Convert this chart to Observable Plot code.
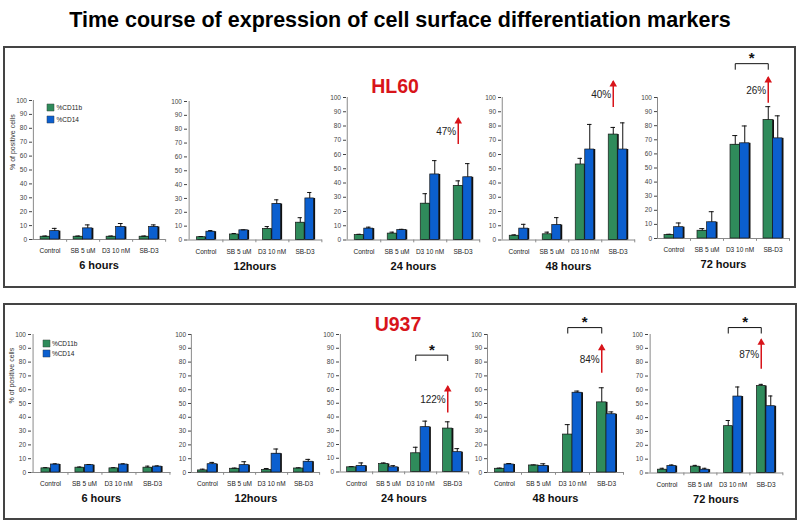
<!DOCTYPE html>
<html><head><meta charset="utf-8">
<script src="https://cdn.jsdelivr.net/npm/d3@7"></script>
<script src="https://cdn.jsdelivr.net/npm/@observablehq/plot@0.6"></script>
<style>
body{margin:0;background:#fff;}
#root{position:relative;width:800px;height:525px;overflow:hidden;background:#fff;font-family:"Liberation Sans",Arial,sans-serif;}
.box{position:absolute;border:2px solid #444;box-sizing:border-box;}
.lbl{position:absolute;white-space:nowrap;transform:translateX(-50%);font-weight:bold;}
svg{max-width:none !important;}
</style></head><body><div id="root"></div>
<script>
const categories = ["Control", "SB 5 uM", "D3 10 nM", "SB-D3"];
const series = ["%CD11b", "%CD14"];
const timepoints = ["6 hours", "12hours", "24 hours", "48 hours", "72 hours"];
const yTicks = [0, 10, 20, 30, 40, 50, 60, 70, 80, 90, 100];
const yLabel = "% of positive cells";
const title = "Time course of expression of cell surface differentiation markers";
const cellLines = ["HL60", "U937"];

// HL60 (mean and SD per time point, per treatment)
const hl60_cd11b    = [[2, 2, 2, 2], [2, 4, 8, 12.5], [3.5, 4.5, 25.5, 38], [3, 4, 53, 74], [2.5, 5.5, 66.5, 84]];
const hl60_cd11b_sd = [[0.5, 0.5, 0.5, 0.5], [0.5, 0.7, 1.7, 3.6], [0.5, 1, 7, 3.5], [0.6, 1.5, 4.3, 5], [0.5, 1.5, 6.5, 9.5]];
const hl60_cd14     = [[6, 8, 9, 9], [6, 7, 26, 30], [8, 7, 46, 44], [8, 10.5, 63.5, 63.5], [8, 11.5, 67.5, 71]];
const hl60_cd14_sd  = [[2, 2.5, 2.5, 1.5], [0.8, 0.3, 3, 4.3], [1, 0.5, 9.7, 9.6], [3, 5.2, 17.6, 18.7], [3, 7.5, 12.3, 16]];
const hl60_increase = [null, null, "47%", "40%", "26%"];
const hl60_arrow    = [null, null, [67, 85], [93, 111], [96, 114]];
const hl60_bracket  = [null, null, null, null, 124];

// U937
const u937_cd11b    = [[3, 3.5, 3, 3.5], [1.5, 2.7, 1.9, 2.9], [3.4, 5.8, 13.6, 31.6], [2.7, 5.1, 27.5, 50.8], [2.4, 4.6, 33.8, 62.8]];
const u937_cd11b_sd = [[0.5, 0.5, 0.5, 1.1], [0.9, 0.5, 1, 0.5], [0.5, 0.8, 4.4, 4.9], [0.5, 0.4, 7.2, 10.6], [1, 0.9, 4.1, 1.2]];
const u937_cd14     = [[5.8, 5.3, 5.8, 4.3], [6, 5.3, 13.6, 7.8], [4.4, 3.4, 32.6, 14.4], [5.8, 4.8, 57.8, 42.2], [5, 2.4, 55.2, 48.2]];
const u937_cd14_sd  = [[0.5, 0.5, 0.5, 0.5], [1.3, 2.5, 3.4, 1.7], [2.2, 1.2, 4.4, 2.6], [0.7, 1.5, 1.2, 1.7], [0.8, 1, 6.9, 7.4]];
const u937_increase = [null, null, "122%", "84%", "87%"];
const u937_arrow    = [null, null, [43, 62], [72, 92], [75, 96]];
const u937_bracket  = [null, null, 85, 105, 105];

// ---- styling / layout ----
const FONT = '"Liberation Sans", Arial, sans-serif';
const colors = ["#2f8b5b", "#0b5fcf"];
const RED = "#d8141a";
const hl60Layout = [
  {left: 32, right: 165, top: 100, bottom: 239},
  {left: 187, right: 322, top: 100.5, bottom: 239},
  {left: 346, right: 480, top: 96.5, bottom: 239},
  {left: 501, right: 635, top: 96.5, bottom: 239},
  {left: 657, right: 789, top: 97, bottom: 238}
];
const u937Layout = [
  {left: 30.5, right: 170, top: 333.5, bottom: 471.5},
  {left: 190.6, right: 319.5, top: 334, bottom: 472},
  {left: 339, right: 468, top: 334, bottom: 471.5},
  {left: 487, right: 623, top: 334, bottom: 472},
  {left: 648, right: 783, top: 333.5, bottom: 472}
];

const root = document.getElementById("root");
function addDiv(css, cls, text) {
  const d = document.createElement("div");
  if (cls) d.className = cls;
  d.style.cssText = css;
  if (text) d.textContent = text;
  root.appendChild(d);
  return d;
}

addDiv("position:absolute;left:0;top:7px;width:800px;text-align:center;font-weight:bold;font-size:21.5px;line-height:26px;color:#000;", null, title);
addDiv("left:3px;top:46px;width:793px;height:242px;", "box");
addDiv("left:3px;top:303px;width:794px;height:217px;", "box");
addDiv("left:395px;top:74px;font-size:19.5px;line-height:24px;color:" + RED + ";", "lbl", cellLines[0]);
addDiv("left:398px;top:312px;font-size:19.5px;line-height:24px;color:" + RED + ";", "lbl", cellLines[1]);

function subplot(geo, time, a, aSd, b, bSd, pct, arrow, bracket, isFirst) {
  const mL = 30, mR = 10, mT = 60, mB = 40;
  const pw = geo.right - geo.left, ph = geo.bottom - geo.top;
  const W = mL + pw + mR, H = mT + ph + mB;
  const step = pw / categories.length, half = step / 2, bw = 9.5, off = bw / 2;
  const rowsA = categories.map((c, i) => ({cat: c, s: series[0], v: a[i], sd: aSd[i]}));
  const rowsB = categories.map((c, i) => ({cat: c, s: series[1], v: b[i], sd: bSd[i]}));
  const insA = {insetLeft: half - bw, insetRight: half};
  const insB = {insetLeft: half, insetRight: half - bw};
  const axisCol = "#8a8a8a";
  const marks = [
    Plot.ruleY([0], {stroke: axisCol}),
    Plot.ruleX([categories[0]], {x: d => d, dx: -half, stroke: axisCol}),
    Plot.ruleX(categories, {x: d => d, dx: half, y1: 0, y2: -2, stroke: axisCol}),
    Plot.axisY({ticks: yTicks, tickSize: 3, tickPadding: 2.5, fontSize: 6.5, color: "#444", label: null}),
    Plot.axisX({tickSize: 0, tickPadding: 9, fontSize: 6.5, color: "#222", label: null}),
    Plot.barY(rowsA, {x: "cat", y: "v", ...insA, fill: "#111", dx: 1.5}),
    Plot.barY(rowsA, {x: "cat", y: "v", ...insA, fill: "s", stroke: "#1a1a1a", strokeWidth: 0.7}),
    Plot.barY(rowsB, {x: "cat", y: "v", ...insB, fill: "#111", dx: 1.5}),
    Plot.barY(rowsB, {x: "cat", y: "v", ...insB, fill: "s", stroke: "#1a1a1a", strokeWidth: 0.7})
  ];
  for (const [rows, dx] of [[rowsA, -off], [rowsB, off]]) {
    const d = rows.filter(r => r.sd > 0);
    marks.push(Plot.ruleX(d, {x: "cat", y1: "v", y2: r => r.v + r.sd, dx, stroke: "#111", strokeWidth: 1}));
    marks.push(Plot.tickY(d, {x: "cat", y: r => r.v + r.sd, insetLeft: half + dx - 2.5, insetRight: half - dx - 2.5, stroke: "#111", strokeWidth: 1}));
  }
  if (arrow) {
    const ar = [{cat: categories[3], y1: arrow[0], y2: arrow[1], t: pct}];
    marks.push(Plot.ruleX(ar, {x: "cat", y1: "y1", y2: "y2", dx: -off, stroke: RED, strokeWidth: 1.5}));
    marks.push(Plot.dot(ar, {x: "cat", y: "y2", dx: -off, dy: 2.5, symbol: "triangle", r: 2.8, fill: RED}));
    marks.push(Plot.text(ar, {x: "cat", y: d => (d.y1 + d.y2) / 2, text: "t", dx: -off - 2, textAnchor: "end", fontSize: 10, fill: "#222"}));
  }
  if (bracket != null) {
    const br = [
      {x: categories[2], y: bracket - 4}, {x: categories[2], y: bracket},
      {x: categories[3], y: bracket}, {x: categories[3], y: bracket - 4}
    ];
    marks.push(Plot.line(br, {x: "x", y: "y", dx: -off, stroke: "#111", strokeWidth: 1}));
    marks.push(Plot.text(["*"], {x: () => categories[2], y: () => bracket, text: d => d, dx: half - off, dy: -5, fontSize: 15, fontWeight: "bold", fill: "#111"}));
  }
  marks.push(Plot.text([time], {frameAnchor: "bottom", text: d => d, dy: 29.5, fontSize: 11, fontWeight: "bold", fill: "#111"}));
  if (isFirst) marks.push(Plot.text([yLabel], {frameAnchor: "left", text: d => d, dx: -20, rotate: -90, fontSize: 7, fill: "#333"}));

  const svg = Plot.plot({
    width: W, height: H, marginLeft: mL, marginRight: mR, marginTop: mT, marginBottom: mB,
    x: {type: "band", domain: categories, padding: 0},
    y: {domain: [0, 100]},
    color: {domain: series, range: colors},
    style: {background: "transparent", overflow: "visible", fontFamily: FONT},
    marks
  });
  const wrap = document.createElement("div");
  wrap.style.cssText = `position:absolute;left:${geo.left - mL}px;top:${geo.top - mT}px;width:${W}px;height:${H}px;`;
  wrap.appendChild(svg);
  root.appendChild(wrap);
}

function legend(left, top, gap, textDx) {
  const svg = Plot.plot({
    width: 50, height: gap + 10, margin: 0,
    y: {type: "point", domain: series, range: [5, 5 + gap], padding: 0, axis: null},
    color: {domain: series, range: colors},
    style: {background: "transparent", overflow: "visible", fontFamily: FONT},
    marks: [
      Plot.dot(series, {y: d => d, frameAnchor: "left", dx: 4, symbol: "square", r: 4, fill: d => d, stroke: "#333", strokeWidth: 0.4}),
      Plot.text(series, {y: d => d, frameAnchor: "left", text: d => d, dx: textDx, textAnchor: "start", fontSize: 6.5, fill: "#222"})
    ]
  });
  const wrap = document.createElement("div");
  wrap.style.cssText = `position:absolute;left:${left}px;top:${top}px;`;
  wrap.appendChild(svg);
  root.appendChild(wrap);
}

hl60Layout.forEach((g, i) => subplot(g, timepoints[i], hl60_cd11b[i], hl60_cd11b_sd[i], hl60_cd14[i], hl60_cd14_sd[i], hl60_increase[i], hl60_arrow[i], hl60_bracket[i], i === 0));
u937Layout.forEach((g, i) => subplot(g, timepoints[i], u937_cd11b[i], u937_cd11b_sd[i], u937_cd14[i], u937_cd14_sd[i], u937_increase[i], u937_arrow[i], u937_bracket[i], i === 0));
legend(45.5, 102, 12, 10);
legend(42.3, 338, 10, 9.4);
</script></body></html>
